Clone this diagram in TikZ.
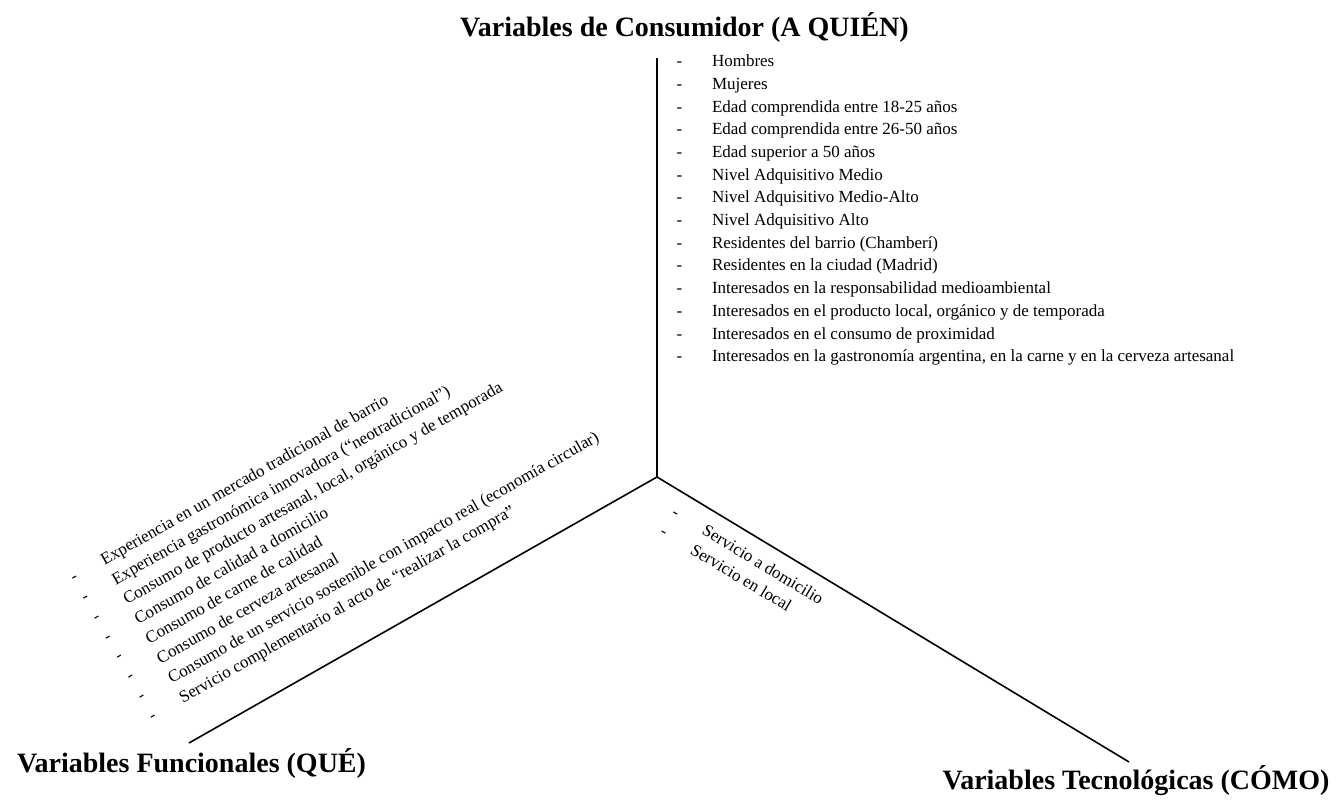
\documentclass[tikz,border=0pt]{standalone}
\usepackage{fontspec}
\setmainfont{Liberation Serif}
\newcommand{\guion}[1]{\makebox[35.5pt][l]{-}#1}

\begin{document}
\begin{tikzpicture}[x=1pt,y=1pt,every node/.style={inner sep=0pt,anchor=base west,font=\fontsize{17}{20}\selectfont}]

  \useasboundingbox (0,0) rectangle (1338,800);

  % Specification of axes (centre and ends)
  \coordinate (o) at (657,323);
  \coordinate (quien) at (657,742);
  \coordinate (que) at (189,57);
  \coordinate (como) at (1129,38);

  \begin{scope}[line width=1.6pt]
    \draw (o) to (quien);
    \draw (o) to (que);
    \draw (o) to (como);
  \end{scope}

  % Titles
  \tikzstyle{titulo}=[anchor=base,font=\fontsize{28}{32}\selectfont\bfseries]
  \node[titulo] (tquien) at (684.5,763) {Variables de Consumidor (A QUIÉN)};
  \node[titulo] (tque) at (191.5,27) {Variables Funcionales (QUÉ)};
  \node[titulo] (tcomo) at (1136,10) {Variables Tecnológicas (CÓMO)};

  % A QUIÉN
  \begin{scope}[shift={(676.3,733.3)},y=-22.7pt]
    \node (c0) at (0,0) {\guion{Hombres}};
    \node (c1) at (0,1) {\guion{Mujeres}};
    \node (c2) at (0,2) {\guion{Edad comprendida entre 18-25 años}};
    \node (c3) at (0,3) {\guion{Edad comprendida entre 26-50 años}};
    \node (c4) at (0,4) {\guion{Edad superior a 50 años}};
    \node (c5) at (0,5) {\guion{Nivel Adquisitivo Medio}};
    \node (c6) at (0,6) {\guion{Nivel Adquisitivo Medio-Alto}};
    \node (c7) at (0,7) {\guion{Nivel Adquisitivo Alto}};
    \node (c8) at (0,8) {\guion{Residentes del barrio (Chamberí)}};
    \node (c9) at (0,9) {\guion{Residentes en la ciudad (Madrid)}};
    \node (c10) at (0,10) {\guion{Interesados en la responsabilidad medioambiental}};
    \node (c11) at (0,11) {\guion{Interesados en el producto local, orgánico y de temporada}};
    \node (c12) at (0,12) {\guion{Interesados en el consumo de proximidad}};
    \node (c13) at (0,13) {\guion{Interesados en la gastronomía argentina, en la carne y en la cerveza artesanal}};
  \end{scope}

  % QUÉ (along the left axis)
  \begin{scope}[shift={(73.6,216.9)},rotate=29.6,y=-22.7pt,transform shape]
    \node (f0) at (0,0) {\guion{Experiencia en un mercado tradicional de barrio}};
    \node (f1) at (0,1) {\guion{Experiencia gastronómica innovadora (``neotradicional'')}};
    \node (f2) at (0,2) {\guion{Consumo de producto artesanal, local, orgánico y de temporada}};
    \node (f3) at (0,3) {\guion{Consumo de calidad a domicilio}};
    \node (f4) at (0,4) {\guion{Consumo de carne de calidad}};
    \node (f5) at (0,5) {\guion{Consumo de cerveza artesanal}};
    \node (f6) at (0,6) {\guion{Consumo de un servicio sostenible con impacto real (economía circular)}};
    \node (f7) at (0,7) {\guion{Servicio complementario al acto de ``realizar la compra''}};
  \end{scope}

  % CÓMO (along the right axis)
  \begin{scope}[shift={(670.6,284.7)},rotate=-31.1,y=-22.7pt,transform shape]
    \node (t0) at (0,0) {\guion{Servicio a domicilio}};
    \node (t1) at (0,1) {\guion{Servicio en local}};
  \end{scope}

\end{tikzpicture}
\end{document}
